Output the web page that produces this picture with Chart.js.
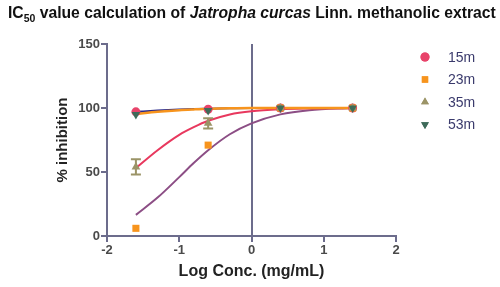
<!DOCTYPE html>
<html>
<head>
<meta charset="utf-8">
<script src="https://cdn.jsdelivr.net/npm/chart.js@4.4.1/dist/chart.umd.min.js"></script>
<style>
  html, body { margin: 0; padding: 0; background: #fff; }
  .wrap { position: relative; width: 500px; height: 287px; }
  .title {
    position: absolute; left: 8px; top: 4px;
    font: bold 15.7px "Liberation Sans", Arial, sans-serif;
    color: #111; white-space: nowrap;
  }
  .title sub { font-size: 10.5px; }
</style>
</head>
<body>
<div class="wrap">
  <div class="title">IC<sub>50</sub> value calculation of <i>Jatropha curcas</i> Linn. methanolic extract</div>
  <canvas id="chart" width="500" height="287"></canvas>
</div>
<script>
// log concentration of the tested doses
const logConc = [-1.6, -0.6, 0.4, 1.4];

const seriesNames = ['15m', '23m', '35m', '53m'];
const inh15 = [97, 99, 100, 100];
const inh23 = [6, 71, 100, 100];
const inh35 = [54, 88, 100, 100];
const err35 = [6, 4, 0, 0];
const inh53 = [95, 98, 100, 100];

// fitted curves
const fitX = [-1.6, -1.3, -1.0, -0.8, -0.6, -0.3, 0, 0.4, 0.8, 1.4];
const fit15 = [97, 98, 98.8, 99.2, 99.5, 99.8, 100, 100, 100, 100];
const fit23 = [16.5, 30, 46, 57, 67, 79.5, 88, 95, 98.3, 100];
const fit35 = [53, 67, 79, 85, 90, 95, 97.5, 99, 99.6, 100];
const fit53 = [95.3, 97, 98.3, 98.9, 99.4, 99.8, 100, 100, 100, 100];

const yTicks = [0, 50, 100, 150];
const xTicks = [-2, -1, 0, 1, 2];

const AXIS = '#6c6c8c';
const TICK_TXT = '#4a4a4a';
const FONT = '"Liberation Sans", Arial, sans-serif';

const pts = (xs, ys) => xs.map((x, i) => ({ x, y: ys[i] }));

// lower order = drawn later (on top)
function markerSet(label, ys, color, style, order, rotation) {
  return {
    type: 'scatter',
    label,
    data: pts(logConc, ys),
    pointStyle: style,
    rotation: rotation || 0,
    pointRadius: style === 'circle' ? 4.5 : 5,
    backgroundColor: color,
    borderColor: color,
    borderWidth: 0,
    order,
  };
}

function fitSet(ys, color, width, order) {
  return {
    type: 'line',
    label: '',
    data: pts(fitX, ys),
    borderColor: color,
    borderWidth: width,
    pointRadius: 0,
    cubicInterpolationMode: 'monotone',
    fill: false,
    order,
  };
}

const datasets = [
  markerSet(seriesNames[0], inh15, '#e8436a', 'circle', 4),
  markerSet(seriesNames[1], inh23, '#f7941d', 'rect', 3),
  markerSet(seriesNames[2], inh35, '#9b9467', 'triangle', 2),
  markerSet(seriesNames[3], inh53, '#3e6b5a', 'triangle', 1, 180),
  fitSet(fit23, '#8c4e85', 2, 8),
  fitSet(fit35, '#e8385e', 2, 7),
  fitSet(fit15, '#28288a', 2, 6),
  fitSet(fit53, '#f7941d', 2.5, 5),
];

const errorBars = {
  id: 'errorBars',
  afterDatasetsDraw(chart) {
    const { ctx, scales: { x, y } } = chart;
    ctx.save();
    ctx.strokeStyle = '#9b9467';
    ctx.lineWidth = 2;
    logConc.forEach((c, i) => {
      if (!err35[i]) return;
      const px = x.getPixelForValue(c);
      const top = y.getPixelForValue(inh35[i] + err35[i]);
      const bot = y.getPixelForValue(inh35[i] - err35[i]);
      ctx.beginPath();
      ctx.moveTo(px, top); ctx.lineTo(px, bot);
      ctx.moveTo(px - 5, top); ctx.lineTo(px + 5, top);
      ctx.moveTo(px - 5, bot); ctx.lineTo(px + 5, bot);
      ctx.stroke();
    });
    ctx.restore();
  },
};

const sideLegend = {
  id: 'sideLegend',
  afterDraw(chart) {
    const ctx = chart.ctx;
    ctx.save();
    ctx.font = '14px ' + FONT;
    ctx.textBaseline = 'middle';
    seriesNames.forEach((name, i) => {
      const ds = chart.data.datasets[i];
      const yy = 57 + i * 22.5;
      ctx.fillStyle = ds.backgroundColor;
      Chart.helpers.drawPoint(ctx, {
        pointStyle: ds.pointStyle, rotation: ds.rotation, radius: 4.5, borderWidth: 0,
      }, 425, yy);
      ctx.fill();
      ctx.fillStyle = '#3a3a6c';
      ctx.fillText(name, 448, yy + 1);
    });
    ctx.restore();
  },
};

new Chart(document.getElementById('chart'), {
  data: { datasets },
  plugins: [errorBars, sideLegend],
  options: {
    responsive: false,
    animation: false,
    layout: { padding: { top: 44, right: 104, left: 0, bottom: 0 } },
    plugins: { legend: { display: false }, tooltip: { enabled: false } },
    scales: {
      x: {
        type: 'linear',
        min: -2, max: 2,
        afterFit: (s) => { s.height = 51; },
        afterBuildTicks: (s) => { s.ticks = xTicks.map((v) => ({ value: v })); },
        border: { color: AXIS, width: 2 },
        grid: {
          drawOnChartArea: true,
          color: (c) => (c.tick && c.tick.value === 0 ? AXIS : 'rgba(0,0,0,0)'),
          lineWidth: 2,
          tickColor: AXIS,
          tickLength: 6,
        },
        ticks: { color: TICK_TXT, padding: 1, font: { size: 13, weight: 'bold', family: FONT } },
        title: {
          display: true, text: 'Log Conc. (mg/mL)', color: '#222',
          font: { size: 16, weight: 'bold', family: FONT },
          padding: { top: 0, bottom: 6 },
        },
      },
      y: {
        min: 0, max: 150,
        afterFit: (s) => { s.width = 107; },
        afterBuildTicks: (s) => { s.ticks = yTicks.map((v) => ({ value: v })); },
        border: { color: AXIS, width: 2 },
        grid: { drawOnChartArea: false, tickColor: AXIS, tickLength: 6, lineWidth: 2 },
        ticks: { color: TICK_TXT, padding: 1, font: { size: 13, weight: 'bold', family: FONT } },
        title: {
          display: true, text: '% inhibition', color: '#222',
          font: { size: 15, weight: 'bold', family: FONT },
          padding: { top: 54, bottom: 0 },
        },
      },
    },
  },
});
</script>
</body>
</html>
